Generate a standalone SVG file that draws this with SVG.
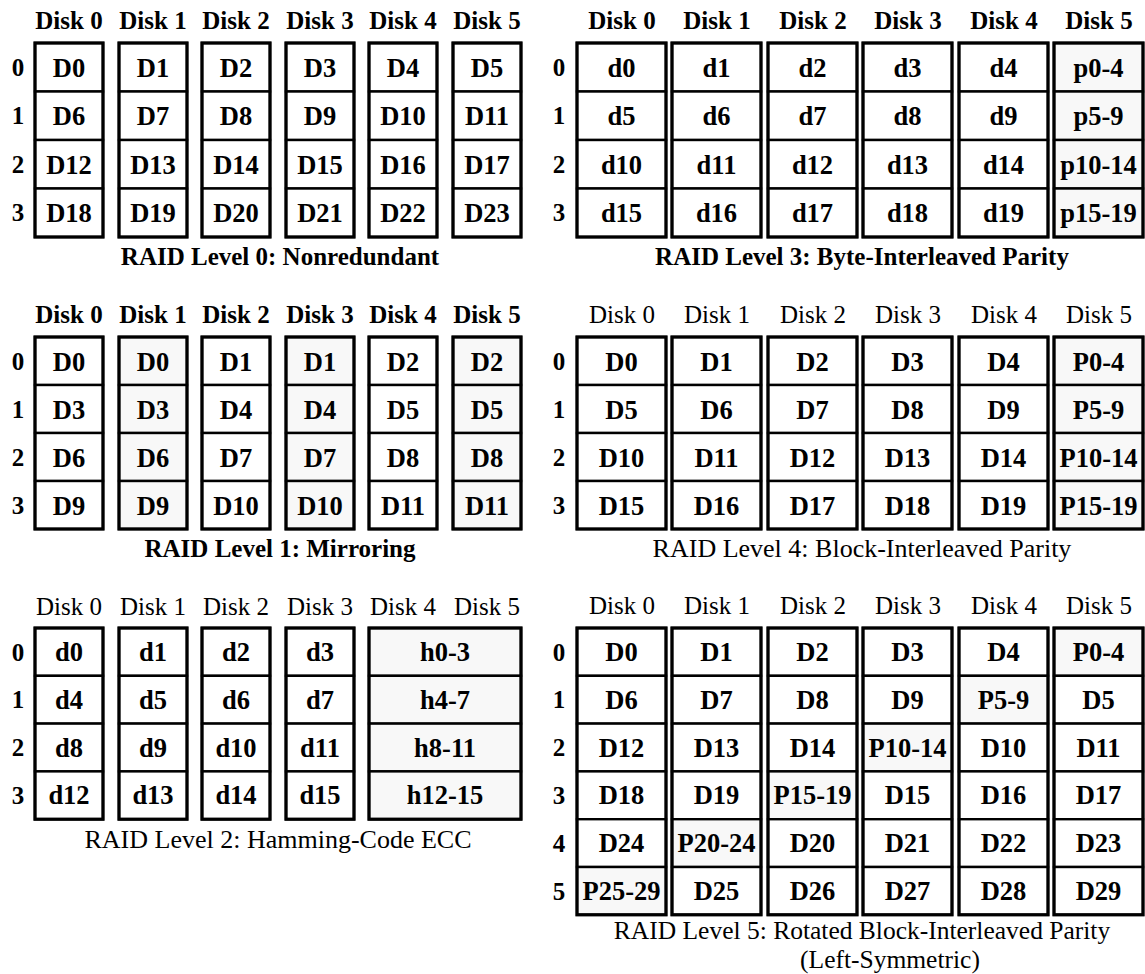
<svg xmlns="http://www.w3.org/2000/svg" width="1145" height="974" viewBox="0 0 1145 974">
<style>
.bg{fill:#fff}
.c{fill:#fff;stroke:#000;stroke-width:2.4}
.s{fill:#f8f8f8}
.o{fill:none;stroke:#000;stroke-width:3.2}
text{font-family:"Liberation Serif","Times New Roman",serif;fill:#000;text-anchor:middle}
.t{font-size:26.5px;font-weight:bold}
.h{font-size:25px}
.hb{font-size:25px;font-weight:bold}
.ti{font-size:26px}
.t5{font-size:25.5px}
.tb{font-size:25px;font-weight:bold}
.rl{font-size:25px;font-weight:bold}
</style>
<rect class="bg" x="0" y="0" width="1145" height="974"/>
<g id="connectors"/>

<!-- RAID 0 -->
<g id="raid0">
<g id="raid0-labels">
<text class="hb" x="69" y="29">Disk 0</text><text class="hb" x="153" y="29">Disk 1</text><text class="hb" x="236" y="29">Disk 2</text><text class="hb" x="320" y="29">Disk 3</text><text class="hb" x="403" y="29">Disk 4</text><text class="hb" x="487" y="29">Disk 5</text>
<text class="rl" x="18" y="76">0</text><text class="rl" x="18" y="124">1</text><text class="rl" x="18" y="173">2</text><text class="rl" x="18" y="221">3</text>
<text class="tb" x="280" y="265">RAID Level 0: Nonredundant</text>
</g>
<g id="raid0-disk0"><rect class="c" x="35" y="43" width="68" height="48.5"/><rect class="c" x="35" y="91.5" width="68" height="48.5"/><rect class="c" x="35" y="140" width="68" height="48.5"/><rect class="c" x="35" y="188.5" width="68" height="48.5"/><rect class="o" x="35" y="43" width="68" height="194"/>
<text class="t" x="69" y="76.5">D0</text><text class="t" x="69" y="125">D6</text><text class="t" x="69" y="173.5">D12</text><text class="t" x="69" y="222">D18</text></g>
<g id="raid0-disk1"><rect class="c" x="119" y="43" width="68" height="48.5"/><rect class="c" x="119" y="91.5" width="68" height="48.5"/><rect class="c" x="119" y="140" width="68" height="48.5"/><rect class="c" x="119" y="188.5" width="68" height="48.5"/><rect class="o" x="119" y="43" width="68" height="194"/>
<text class="t" x="153" y="76.5">D1</text><text class="t" x="153" y="125">D7</text><text class="t" x="153" y="173.5">D13</text><text class="t" x="153" y="222">D19</text></g>
<g id="raid0-disk2"><rect class="c" x="202" y="43" width="68" height="48.5"/><rect class="c" x="202" y="91.5" width="68" height="48.5"/><rect class="c" x="202" y="140" width="68" height="48.5"/><rect class="c" x="202" y="188.5" width="68" height="48.5"/><rect class="o" x="202" y="43" width="68" height="194"/>
<text class="t" x="236" y="76.5">D2</text><text class="t" x="236" y="125">D8</text><text class="t" x="236" y="173.5">D14</text><text class="t" x="236" y="222">D20</text></g>
<g id="raid0-disk3"><rect class="c" x="286" y="43" width="68" height="48.5"/><rect class="c" x="286" y="91.5" width="68" height="48.5"/><rect class="c" x="286" y="140" width="68" height="48.5"/><rect class="c" x="286" y="188.5" width="68" height="48.5"/><rect class="o" x="286" y="43" width="68" height="194"/>
<text class="t" x="320" y="76.5">D3</text><text class="t" x="320" y="125">D9</text><text class="t" x="320" y="173.5">D15</text><text class="t" x="320" y="222">D21</text></g>
<g id="raid0-disk4"><rect class="c" x="369" y="43" width="68" height="48.5"/><rect class="c" x="369" y="91.5" width="68" height="48.5"/><rect class="c" x="369" y="140" width="68" height="48.5"/><rect class="c" x="369" y="188.5" width="68" height="48.5"/><rect class="o" x="369" y="43" width="68" height="194"/>
<text class="t" x="403" y="76.5">D4</text><text class="t" x="403" y="125">D10</text><text class="t" x="403" y="173.5">D16</text><text class="t" x="403" y="222">D22</text></g>
<g id="raid0-disk5"><rect class="c" x="453" y="43" width="68" height="48.5"/><rect class="c" x="453" y="91.5" width="68" height="48.5"/><rect class="c" x="453" y="140" width="68" height="48.5"/><rect class="c" x="453" y="188.5" width="68" height="48.5"/><rect class="o" x="453" y="43" width="68" height="194"/>
<text class="t" x="487" y="76.5">D5</text><text class="t" x="487" y="125">D11</text><text class="t" x="487" y="173.5">D17</text><text class="t" x="487" y="222">D23</text></g>
</g>

<!-- RAID 1 -->
<g id="raid1">
<g id="raid1-labels">
<text class="hb" x="69" y="323">Disk 0</text><text class="hb" x="153" y="323">Disk 1</text><text class="hb" x="236" y="323">Disk 2</text><text class="hb" x="320" y="323">Disk 3</text><text class="hb" x="403" y="323">Disk 4</text><text class="hb" x="487" y="323">Disk 5</text>
<text class="rl" x="18" y="370">0</text><text class="rl" x="18" y="418">1</text><text class="rl" x="18" y="466">2</text><text class="rl" x="18" y="514">3</text>
<text class="tb" x="280" y="557">RAID Level 1: Mirroring</text>
</g>
<g id="raid1-disk0"><rect class="c" x="35" y="337" width="68" height="48"/><rect class="c" x="35" y="385" width="68" height="48"/><rect class="c" x="35" y="433" width="68" height="48"/><rect class="c" x="35" y="481" width="68" height="48"/><rect class="o" x="35" y="337" width="68" height="192"/>
<text class="t" x="69" y="370.5">D0</text><text class="t" x="69" y="418.5">D3</text><text class="t" x="69" y="466.5">D6</text><text class="t" x="69" y="514.5">D9</text></g>
<g id="raid1-disk1"><rect class="c s" x="119" y="337" width="68" height="48"/><rect class="c s" x="119" y="385" width="68" height="48"/><rect class="c s" x="119" y="433" width="68" height="48"/><rect class="c s" x="119" y="481" width="68" height="48"/><rect class="o" x="119" y="337" width="68" height="192"/>
<text class="t" x="153" y="370.5">D0</text><text class="t" x="153" y="418.5">D3</text><text class="t" x="153" y="466.5">D6</text><text class="t" x="153" y="514.5">D9</text></g>
<g id="raid1-disk2"><rect class="c" x="202" y="337" width="68" height="48"/><rect class="c" x="202" y="385" width="68" height="48"/><rect class="c" x="202" y="433" width="68" height="48"/><rect class="c" x="202" y="481" width="68" height="48"/><rect class="o" x="202" y="337" width="68" height="192"/>
<text class="t" x="236" y="370.5">D1</text><text class="t" x="236" y="418.5">D4</text><text class="t" x="236" y="466.5">D7</text><text class="t" x="236" y="514.5">D10</text></g>
<g id="raid1-disk3"><rect class="c s" x="286" y="337" width="68" height="48"/><rect class="c s" x="286" y="385" width="68" height="48"/><rect class="c s" x="286" y="433" width="68" height="48"/><rect class="c s" x="286" y="481" width="68" height="48"/><rect class="o" x="286" y="337" width="68" height="192"/>
<text class="t" x="320" y="370.5">D1</text><text class="t" x="320" y="418.5">D4</text><text class="t" x="320" y="466.5">D7</text><text class="t" x="320" y="514.5">D10</text></g>
<g id="raid1-disk4"><rect class="c" x="369" y="337" width="68" height="48"/><rect class="c" x="369" y="385" width="68" height="48"/><rect class="c" x="369" y="433" width="68" height="48"/><rect class="c" x="369" y="481" width="68" height="48"/><rect class="o" x="369" y="337" width="68" height="192"/>
<text class="t" x="403" y="370.5">D2</text><text class="t" x="403" y="418.5">D5</text><text class="t" x="403" y="466.5">D8</text><text class="t" x="403" y="514.5">D11</text></g>
<g id="raid1-disk5"><rect class="c s" x="453" y="337" width="68" height="48"/><rect class="c s" x="453" y="385" width="68" height="48"/><rect class="c s" x="453" y="433" width="68" height="48"/><rect class="c s" x="453" y="481" width="68" height="48"/><rect class="o" x="453" y="337" width="68" height="192"/>
<text class="t" x="487" y="370.5">D2</text><text class="t" x="487" y="418.5">D5</text><text class="t" x="487" y="466.5">D8</text><text class="t" x="487" y="514.5">D11</text></g>
</g>

<!-- RAID 2 -->
<g id="raid2">
<g id="raid2-labels">
<text class="h" x="69" y="615">Disk 0</text><text class="h" x="153" y="615">Disk 1</text><text class="h" x="236" y="615">Disk 2</text><text class="h" x="320" y="615">Disk 3</text><text class="h" x="403" y="615">Disk 4</text><text class="h" x="487" y="615">Disk 5</text>
<text class="rl" x="18" y="660.5">0</text><text class="rl" x="18" y="708.3">1</text><text class="rl" x="18" y="756.1">2</text><text class="rl" x="18" y="803.9">3</text>
<text class="ti" x="278" y="848">RAID Level 2: Hamming-Code ECC</text>
</g>
<g id="raid2-disk0"><rect class="c" x="35" y="628" width="68" height="47.8"/><rect class="c" x="35" y="675.8" width="68" height="47.8"/><rect class="c" x="35" y="723.6" width="68" height="47.8"/><rect class="c" x="35" y="771.4" width="68" height="47.8"/><rect class="o" x="35" y="628" width="68" height="191.2"/>
<text class="t" x="69" y="661">d0</text><text class="t" x="69" y="708.8">d4</text><text class="t" x="69" y="756.6">d8</text><text class="t" x="69" y="804.4">d12</text></g>
<g id="raid2-disk1"><rect class="c" x="119" y="628" width="68" height="47.8"/><rect class="c" x="119" y="675.8" width="68" height="47.8"/><rect class="c" x="119" y="723.6" width="68" height="47.8"/><rect class="c" x="119" y="771.4" width="68" height="47.8"/><rect class="o" x="119" y="628" width="68" height="191.2"/>
<text class="t" x="153" y="661">d1</text><text class="t" x="153" y="708.8">d5</text><text class="t" x="153" y="756.6">d9</text><text class="t" x="153" y="804.4">d13</text></g>
<g id="raid2-disk2"><rect class="c" x="202" y="628" width="68" height="47.8"/><rect class="c" x="202" y="675.8" width="68" height="47.8"/><rect class="c" x="202" y="723.6" width="68" height="47.8"/><rect class="c" x="202" y="771.4" width="68" height="47.8"/><rect class="o" x="202" y="628" width="68" height="191.2"/>
<text class="t" x="236" y="661">d2</text><text class="t" x="236" y="708.8">d6</text><text class="t" x="236" y="756.6">d10</text><text class="t" x="236" y="804.4">d14</text></g>
<g id="raid2-disk3"><rect class="c" x="286" y="628" width="68" height="47.8"/><rect class="c" x="286" y="675.8" width="68" height="47.8"/><rect class="c" x="286" y="723.6" width="68" height="47.8"/><rect class="c" x="286" y="771.4" width="68" height="47.8"/><rect class="o" x="286" y="628" width="68" height="191.2"/>
<text class="t" x="320" y="661">d3</text><text class="t" x="320" y="708.8">d7</text><text class="t" x="320" y="756.6">d11</text><text class="t" x="320" y="804.4">d15</text></g>
<g id="raid2-disk45"><rect class="c s" x="369" y="628" width="152" height="47.8"/><rect class="c s" x="369" y="675.8" width="152" height="47.8"/><rect class="c s" x="369" y="723.6" width="152" height="47.8"/><rect class="c s" x="369" y="771.4" width="152" height="47.8"/><rect class="o" x="369" y="628" width="152" height="191.2"/>
<text class="t" x="445" y="661">h0-3</text><text class="t" x="445" y="708.8">h4-7</text><text class="t" x="445" y="756.6">h8-11</text><text class="t" x="445" y="804.4">h12-15</text></g>
</g>

<!-- RAID 3 -->
<g id="raid3">
<g id="raid3-labels">
<text class="hb" x="622" y="29">Disk 0</text><text class="hb" x="717" y="29">Disk 1</text><text class="hb" x="813" y="29">Disk 2</text><text class="hb" x="908" y="29">Disk 3</text><text class="hb" x="1004" y="29">Disk 4</text><text class="hb" x="1099" y="29">Disk 5</text>
<text class="rl" x="559" y="76">0</text><text class="rl" x="559" y="124">1</text><text class="rl" x="559" y="173">2</text><text class="rl" x="559" y="221">3</text>
<text class="tb" x="862" y="265">RAID Level 3: Byte-Interleaved Parity</text>
</g>
<g id="raid3-disk0"><rect class="c" x="577" y="43" width="89" height="48.5"/><rect class="c" x="577" y="91.5" width="89" height="48.5"/><rect class="c" x="577" y="140" width="89" height="48.5"/><rect class="c" x="577" y="188.5" width="89" height="48.5"/><rect class="o" x="577" y="43" width="89" height="194"/>
<text class="t" x="621.5" y="76.5">d0</text><text class="t" x="621.5" y="125">d5</text><text class="t" x="621.5" y="173.5">d10</text><text class="t" x="621.5" y="222">d15</text></g>
<g id="raid3-disk1"><rect class="c" x="672" y="43" width="89" height="48.5"/><rect class="c" x="672" y="91.5" width="89" height="48.5"/><rect class="c" x="672" y="140" width="89" height="48.5"/><rect class="c" x="672" y="188.5" width="89" height="48.5"/><rect class="o" x="672" y="43" width="89" height="194"/>
<text class="t" x="716.5" y="76.5">d1</text><text class="t" x="716.5" y="125">d6</text><text class="t" x="716.5" y="173.5">d11</text><text class="t" x="716.5" y="222">d16</text></g>
<g id="raid3-disk2"><rect class="c" x="768" y="43" width="89" height="48.5"/><rect class="c" x="768" y="91.5" width="89" height="48.5"/><rect class="c" x="768" y="140" width="89" height="48.5"/><rect class="c" x="768" y="188.5" width="89" height="48.5"/><rect class="o" x="768" y="43" width="89" height="194"/>
<text class="t" x="812.5" y="76.5">d2</text><text class="t" x="812.5" y="125">d7</text><text class="t" x="812.5" y="173.5">d12</text><text class="t" x="812.5" y="222">d17</text></g>
<g id="raid3-disk3"><rect class="c" x="863" y="43" width="89" height="48.5"/><rect class="c" x="863" y="91.5" width="89" height="48.5"/><rect class="c" x="863" y="140" width="89" height="48.5"/><rect class="c" x="863" y="188.5" width="89" height="48.5"/><rect class="o" x="863" y="43" width="89" height="194"/>
<text class="t" x="907.5" y="76.5">d3</text><text class="t" x="907.5" y="125">d8</text><text class="t" x="907.5" y="173.5">d13</text><text class="t" x="907.5" y="222">d18</text></g>
<g id="raid3-disk4"><rect class="c" x="959" y="43" width="89" height="48.5"/><rect class="c" x="959" y="91.5" width="89" height="48.5"/><rect class="c" x="959" y="140" width="89" height="48.5"/><rect class="c" x="959" y="188.5" width="89" height="48.5"/><rect class="o" x="959" y="43" width="89" height="194"/>
<text class="t" x="1003.5" y="76.5">d4</text><text class="t" x="1003.5" y="125">d9</text><text class="t" x="1003.5" y="173.5">d14</text><text class="t" x="1003.5" y="222">d19</text></g>
<g id="raid3-disk5"><rect class="c s" x="1054" y="43" width="89" height="48.5"/><rect class="c s" x="1054" y="91.5" width="89" height="48.5"/><rect class="c s" x="1054" y="140" width="89" height="48.5"/><rect class="c s" x="1054" y="188.5" width="89" height="48.5"/><rect class="o" x="1054" y="43" width="89" height="194"/>
<text class="t" x="1098.5" y="76.5">p0-4</text><text class="t" x="1098.5" y="125">p5-9</text><text class="t" x="1098.5" y="173.5">p10-14</text><text class="t" x="1098.5" y="222">p15-19</text></g>
</g>

<!-- RAID 4 -->
<g id="raid4">
<g id="raid4-labels">
<text class="h" x="622" y="323">Disk 0</text><text class="h" x="717" y="323">Disk 1</text><text class="h" x="813" y="323">Disk 2</text><text class="h" x="908" y="323">Disk 3</text><text class="h" x="1004" y="323">Disk 4</text><text class="h" x="1099" y="323">Disk 5</text>
<text class="rl" x="559" y="370">0</text><text class="rl" x="559" y="418">1</text><text class="rl" x="559" y="466">2</text><text class="rl" x="559" y="514">3</text>
<text class="ti" x="862" y="557">RAID Level 4: Block-Interleaved Parity</text>
</g>
<g id="raid4-disk0"><rect class="c" x="577" y="337" width="89" height="48"/><rect class="c" x="577" y="385" width="89" height="48"/><rect class="c" x="577" y="433" width="89" height="48"/><rect class="c" x="577" y="481" width="89" height="48"/><rect class="o" x="577" y="337" width="89" height="192"/>
<text class="t" x="621.5" y="370.5">D0</text><text class="t" x="621.5" y="418.5">D5</text><text class="t" x="621.5" y="466.5">D10</text><text class="t" x="621.5" y="514.5">D15</text></g>
<g id="raid4-disk1"><rect class="c" x="672" y="337" width="89" height="48"/><rect class="c" x="672" y="385" width="89" height="48"/><rect class="c" x="672" y="433" width="89" height="48"/><rect class="c" x="672" y="481" width="89" height="48"/><rect class="o" x="672" y="337" width="89" height="192"/>
<text class="t" x="716.5" y="370.5">D1</text><text class="t" x="716.5" y="418.5">D6</text><text class="t" x="716.5" y="466.5">D11</text><text class="t" x="716.5" y="514.5">D16</text></g>
<g id="raid4-disk2"><rect class="c" x="768" y="337" width="89" height="48"/><rect class="c" x="768" y="385" width="89" height="48"/><rect class="c" x="768" y="433" width="89" height="48"/><rect class="c" x="768" y="481" width="89" height="48"/><rect class="o" x="768" y="337" width="89" height="192"/>
<text class="t" x="812.5" y="370.5">D2</text><text class="t" x="812.5" y="418.5">D7</text><text class="t" x="812.5" y="466.5">D12</text><text class="t" x="812.5" y="514.5">D17</text></g>
<g id="raid4-disk3"><rect class="c" x="863" y="337" width="89" height="48"/><rect class="c" x="863" y="385" width="89" height="48"/><rect class="c" x="863" y="433" width="89" height="48"/><rect class="c" x="863" y="481" width="89" height="48"/><rect class="o" x="863" y="337" width="89" height="192"/>
<text class="t" x="907.5" y="370.5">D3</text><text class="t" x="907.5" y="418.5">D8</text><text class="t" x="907.5" y="466.5">D13</text><text class="t" x="907.5" y="514.5">D18</text></g>
<g id="raid4-disk4"><rect class="c" x="959" y="337" width="89" height="48"/><rect class="c" x="959" y="385" width="89" height="48"/><rect class="c" x="959" y="433" width="89" height="48"/><rect class="c" x="959" y="481" width="89" height="48"/><rect class="o" x="959" y="337" width="89" height="192"/>
<text class="t" x="1003.5" y="370.5">D4</text><text class="t" x="1003.5" y="418.5">D9</text><text class="t" x="1003.5" y="466.5">D14</text><text class="t" x="1003.5" y="514.5">D19</text></g>
<g id="raid4-disk5"><rect class="c s" x="1054" y="337" width="89" height="48"/><rect class="c s" x="1054" y="385" width="89" height="48"/><rect class="c s" x="1054" y="433" width="89" height="48"/><rect class="c s" x="1054" y="481" width="89" height="48"/><rect class="o" x="1054" y="337" width="89" height="192"/>
<text class="t" x="1098.5" y="370.5">P0-4</text><text class="t" x="1098.5" y="418.5">P5-9</text><text class="t" x="1098.5" y="466.5">P10-14</text><text class="t" x="1098.5" y="514.5">P15-19</text></g>
</g>

<!-- RAID 5 -->
<g id="raid5">
<g id="raid5-labels">
<text class="h" x="622" y="614">Disk 0</text><text class="h" x="717" y="614">Disk 1</text><text class="h" x="813" y="614">Disk 2</text><text class="h" x="908" y="614">Disk 3</text><text class="h" x="1004" y="614">Disk 4</text><text class="h" x="1099" y="614">Disk 5</text>
<text class="rl" x="559" y="660.5">0</text><text class="rl" x="559" y="708.3">1</text><text class="rl" x="559" y="756.1">2</text><text class="rl" x="559" y="803.9">3</text><text class="rl" x="559" y="851.7">4</text><text class="rl" x="559" y="899.5">5</text>
<text class="t5" x="862" y="939">RAID Level 5: Rotated Block-Interleaved Parity</text>
<text class="t5" x="890" y="968">(Left-Symmetric)</text>
</g>
<g id="raid5-disk0"><rect class="c" x="577" y="628" width="89" height="47.8"/><rect class="c" x="577" y="675.8" width="89" height="47.8"/><rect class="c" x="577" y="723.6" width="89" height="47.8"/><rect class="c" x="577" y="771.4" width="89" height="47.8"/><rect class="c" x="577" y="819.2" width="89" height="47.8"/><rect class="c s" x="577" y="867" width="89" height="47.8"/><rect class="o" x="577" y="628" width="89" height="286.8"/>
<text class="t" x="621.5" y="661">D0</text><text class="t" x="621.5" y="708.8">D6</text><text class="t" x="621.5" y="756.6">D12</text><text class="t" x="621.5" y="804.4">D18</text><text class="t" x="621.5" y="852.2">D24</text><text class="t" x="621.5" y="900">P25-29</text></g>
<g id="raid5-disk1"><rect class="c" x="672" y="628" width="89" height="47.8"/><rect class="c" x="672" y="675.8" width="89" height="47.8"/><rect class="c" x="672" y="723.6" width="89" height="47.8"/><rect class="c" x="672" y="771.4" width="89" height="47.8"/><rect class="c s" x="672" y="819.2" width="89" height="47.8"/><rect class="c" x="672" y="867" width="89" height="47.8"/><rect class="o" x="672" y="628" width="89" height="286.8"/>
<text class="t" x="716.5" y="661">D1</text><text class="t" x="716.5" y="708.8">D7</text><text class="t" x="716.5" y="756.6">D13</text><text class="t" x="716.5" y="804.4">D19</text><text class="t" x="716.5" y="852.2">P20-24</text><text class="t" x="716.5" y="900">D25</text></g>
<g id="raid5-disk2"><rect class="c" x="768" y="628" width="89" height="47.8"/><rect class="c" x="768" y="675.8" width="89" height="47.8"/><rect class="c" x="768" y="723.6" width="89" height="47.8"/><rect class="c s" x="768" y="771.4" width="89" height="47.8"/><rect class="c" x="768" y="819.2" width="89" height="47.8"/><rect class="c" x="768" y="867" width="89" height="47.8"/><rect class="o" x="768" y="628" width="89" height="286.8"/>
<text class="t" x="812.5" y="661">D2</text><text class="t" x="812.5" y="708.8">D8</text><text class="t" x="812.5" y="756.6">D14</text><text class="t" x="812.5" y="804.4">P15-19</text><text class="t" x="812.5" y="852.2">D20</text><text class="t" x="812.5" y="900">D26</text></g>
<g id="raid5-disk3"><rect class="c" x="863" y="628" width="89" height="47.8"/><rect class="c" x="863" y="675.8" width="89" height="47.8"/><rect class="c s" x="863" y="723.6" width="89" height="47.8"/><rect class="c" x="863" y="771.4" width="89" height="47.8"/><rect class="c" x="863" y="819.2" width="89" height="47.8"/><rect class="c" x="863" y="867" width="89" height="47.8"/><rect class="o" x="863" y="628" width="89" height="286.8"/>
<text class="t" x="907.5" y="661">D3</text><text class="t" x="907.5" y="708.8">D9</text><text class="t" x="907.5" y="756.6">P10-14</text><text class="t" x="907.5" y="804.4">D15</text><text class="t" x="907.5" y="852.2">D21</text><text class="t" x="907.5" y="900">D27</text></g>
<g id="raid5-disk4"><rect class="c" x="959" y="628" width="89" height="47.8"/><rect class="c s" x="959" y="675.8" width="89" height="47.8"/><rect class="c" x="959" y="723.6" width="89" height="47.8"/><rect class="c" x="959" y="771.4" width="89" height="47.8"/><rect class="c" x="959" y="819.2" width="89" height="47.8"/><rect class="c" x="959" y="867" width="89" height="47.8"/><rect class="o" x="959" y="628" width="89" height="286.8"/>
<text class="t" x="1003.5" y="661">D4</text><text class="t" x="1003.5" y="708.8">P5-9</text><text class="t" x="1003.5" y="756.6">D10</text><text class="t" x="1003.5" y="804.4">D16</text><text class="t" x="1003.5" y="852.2">D22</text><text class="t" x="1003.5" y="900">D28</text></g>
<g id="raid5-disk5"><rect class="c s" x="1054" y="628" width="89" height="47.8"/><rect class="c" x="1054" y="675.8" width="89" height="47.8"/><rect class="c" x="1054" y="723.6" width="89" height="47.8"/><rect class="c" x="1054" y="771.4" width="89" height="47.8"/><rect class="c" x="1054" y="819.2" width="89" height="47.8"/><rect class="c" x="1054" y="867" width="89" height="47.8"/><rect class="o" x="1054" y="628" width="89" height="286.8"/>
<text class="t" x="1098.5" y="661">P0-4</text><text class="t" x="1098.5" y="708.8">D5</text><text class="t" x="1098.5" y="756.6">D11</text><text class="t" x="1098.5" y="804.4">D17</text><text class="t" x="1098.5" y="852.2">D23</text><text class="t" x="1098.5" y="900">D29</text></g>
</g>
</svg>
